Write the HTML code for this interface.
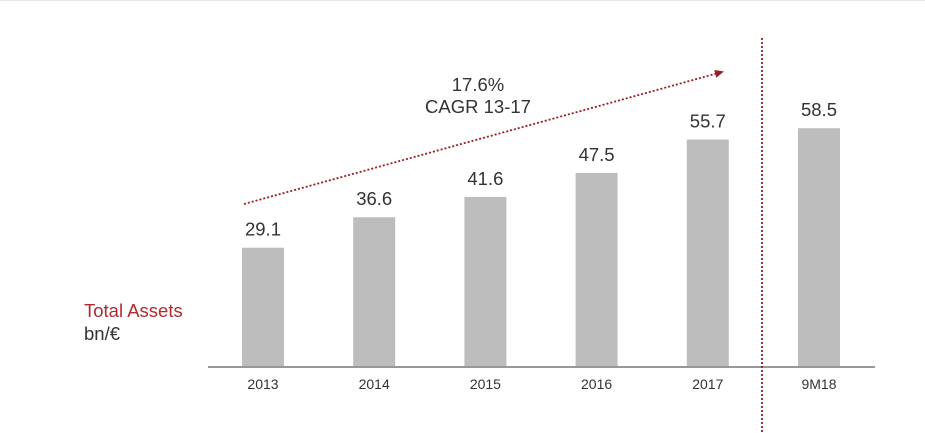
<!DOCTYPE html>
<html><head><meta charset="utf-8"><style>
html,body{margin:0;padding:0;background:#fff;}
svg{display:block;font-family:"Liberation Sans",Arial,sans-serif;}
</style></head><body>
<svg id="chart" width="925" height="433" viewBox="0 0 925 433">
<line x1="0" y1="0.5" x2="925" y2="0.5" stroke="#e6e6e6" stroke-width="1"/>
<text x="84" y="317" font-size="18.5" fill="#b02a2e">Total Assets</text>
<text x="84" y="340" font-size="18.5" fill="#333">bn/€</text>
<g id="bars"></g>
<line x1="208" y1="367" x2="875" y2="367" stroke="#777" stroke-width="1.5"/>
<line x1="762" y1="38" x2="762" y2="433" stroke="#9b1c22" stroke-width="1.8" stroke-dasharray="2,2"/>
<defs><marker id="ah" markerUnits="userSpaceOnUse" markerWidth="9" markerHeight="8" refX="7" refY="4" orient="auto"><path d="M0,0 L9,4 L0,8 z" fill="#9b1c22"/></marker></defs>
<line x1="244" y1="204" x2="722" y2="72" stroke="#9b1c22" stroke-width="1.8" stroke-dasharray="2,2" marker-end="url(#ah)"/>
<text x="478" y="91" font-size="18.5" fill="#333" text-anchor="middle">17.6%</text>
<text x="478" y="113" font-size="18.5" fill="#333" text-anchor="middle">CAGR 13-17</text>
</svg>
<script>
const categories = ["2013","2014","2015","2016","2017","9M18"];
const values = [29.1, 36.6, 41.6, 47.5, 55.7, 58.5];
const labels = ["29.1","36.6","41.6","47.5","55.7","58.5"];
const baseY = 366, scale = 4.065, x0 = 242, step = 111.2, bw = 42;
const xPos = i => x0 + i * step;
const yPos = v => baseY - v * scale;
const g = document.getElementById('bars');
const NS = "http://www.w3.org/2000/svg";
values.forEach((v, i) => {
  const r = document.createElementNS(NS, 'rect');
  
  
  r.setAttribute('x', xPos(i)); r.setAttribute('y', yPos(v));
  r.setAttribute('width', bw); r.setAttribute('height', baseY - yPos(v));
  r.setAttribute('fill', '#bdbdbd');
  g.appendChild(r);
  const t = document.createElementNS(NS, 'text');
  
  
  t.setAttribute('x', xPos(i) + bw / 2); t.setAttribute('y', yPos(v) - 12);
  t.setAttribute('text-anchor', 'middle'); t.setAttribute('font-size', '18.5'); t.setAttribute('fill', '#333');
  t.textContent = labels[i];
  g.appendChild(t);
  const c = document.createElementNS(NS, 'text');
  
  
  c.setAttribute('x', xPos(i) + bw / 2); c.setAttribute('y', 389);
  c.setAttribute('text-anchor', 'middle'); c.setAttribute('font-size', '14'); c.setAttribute('fill', '#333');
  c.textContent = categories[i];
  g.appendChild(c);
});
</script>
</body></html>
